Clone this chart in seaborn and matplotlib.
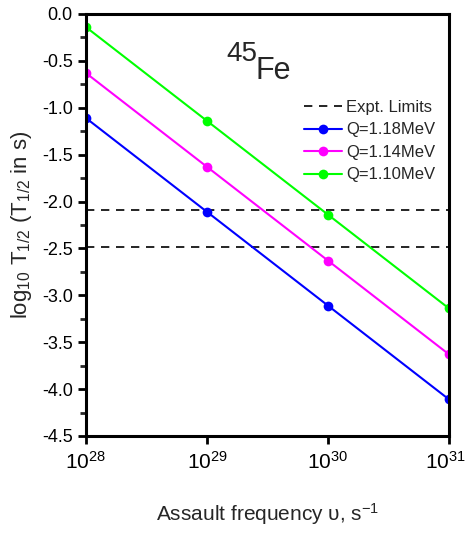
import matplotlib
matplotlib.use("Agg")
import matplotlib.pyplot as plt
import matplotlib.transforms as mtransforms
import seaborn as sns
import numpy as np
import pandas as pd
from matplotlib.ticker import MultipleLocator, FixedLocator, NullLocator

freq = [1e28, 1e29, 1e30, 1e31]
q_labels = ["Q=1.18MeV", "Q=1.14MeV", "Q=1.10MeV"]
logT_118 = [-1.11, -2.11, -3.11, -4.11]
logT_114 = [-0.63, -1.63, -2.63, -3.63]
logT_110 = [-0.14, -1.14, -2.14, -3.14]
expt_limits = [-2.09, -2.48]
x_tick_labels = [r"10$^{\mathregular{28}}$", r"10$^{\mathregular{29}}$",
                 r"10$^{\mathregular{30}}$", r"10$^{\mathregular{31}}$"]
colors = ["#0000ff", "#ff00ff", "#00ff00"]

sns.set_style("ticks")
plt.rcParams['font.family'] = ['Liberation Sans', 'DejaVu Sans']
plt.rcParams['mathtext.fontset'] = 'custom'
plt.rcParams['mathtext.rm'] = 'Liberation Sans'
plt.rcParams['mathtext.it'] = 'Liberation Sans'
plt.rcParams['mathtext.sf'] = 'Liberation Sans'

df = pd.DataFrame({
    "freq": freq * 3,
    "logT": logT_118 + logT_114 + logT_110,
    "Q": [q_labels[0]] * 4 + [q_labels[1]] * 4 + [q_labels[2]] * 4,
})

fig = plt.figure(figsize=(4.68, 5.37), dpi=100)
ax = fig.add_axes([86/468, 1 - 436/537, (449-86)/468, (436-14)/537])

for i, y in enumerate(expt_limits):
    ax.axhline(y, color="black", ls=(0, (5, 4)), lw=1.2,
               label="Expt. Limits" if i == 0 else None)

sns.lineplot(data=df, x="freq", y="logT", hue="Q", palette=colors,
             marker="o", markersize=7, markeredgewidth=0, lw=1.5, ax=ax)

ax.set_xscale("log")
ax.set_xlim(1e28, 1e31)
ax.set_ylim(-4.5, 0.0)
ax.xaxis.set_major_locator(FixedLocator(freq))
ax.xaxis.set_minor_locator(NullLocator())
ax.set_xticklabels(x_tick_labels)
yt = np.arange(-4.5, 0.01, 0.5)
ax.set_yticks(yt)
ax.set_yticklabels([f"{v:.1f}" for v in yt])
ax.yaxis.set_minor_locator(MultipleLocator(0.25))

for s in ax.spines.values():
    s.set_linewidth(2.2)
    s.set_color("black")
ax.tick_params(axis="both", which="major", direction="out", width=2, length=6, labelsize=13, colors="black")
ax.tick_params(axis="y", which="minor", direction="out", width=2, length=4)
ax.tick_params(axis="x", which="major", labelsize=15, pad=5)

ax.set_xlabel(r"Assault frequency $\upsilon$, s$^{\mathregular{-1}}$", fontsize=15, labelpad=20)
ax.set_ylabel(r"log$_{\mathregular{10}}$ T$_{\mathregular{1/2}}$ (T$_{\mathregular{1/2}}$ in s)", fontsize=16, labelpad=6)

ax.text(0.43, 0.905, "45", transform=ax.transAxes, fontsize=20, ha="center", va="center")
ax.text(0.515, 0.865, "Fe", transform=ax.transAxes, fontsize=22, ha="center", va="center")

handles, labels = ax.get_legend_handles_labels()
ax.legend(handles=handles, labels=labels, loc="upper right", bbox_to_anchor=(0.99, 0.82),
          frameon=False, fontsize=12, handlelength=2.3, handletextpad=0.25,
          labelspacing=0.45, borderaxespad=0.2)

fig.canvas.draw()
last = ax.xaxis.get_major_ticks()[-1].label1
last.set_transform(last.get_transform() + mtransforms.ScaledTranslation(-4/100, 0, fig.dpi_scale_trans))

fig.savefig("out.png", dpi=100)
